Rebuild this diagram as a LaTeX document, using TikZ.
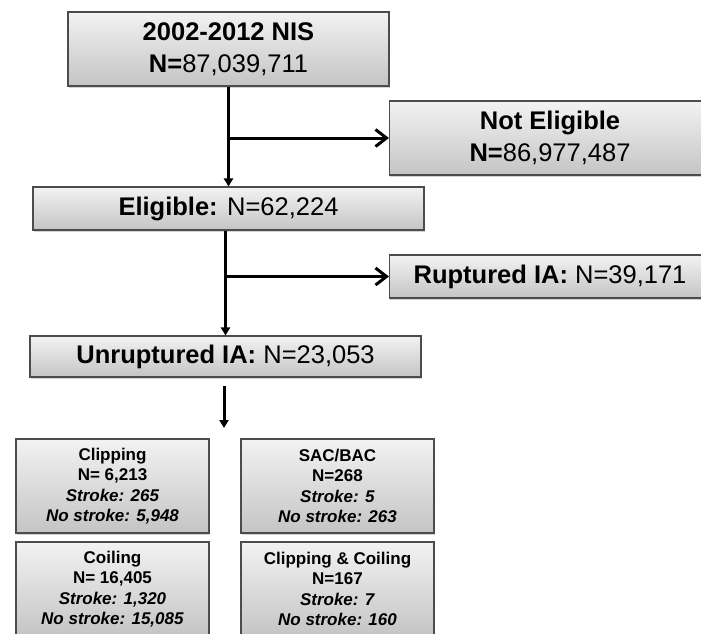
\documentclass[tikz,border=0pt]{standalone}
\usepackage{fontspec}
\setmainfont{Liberation Sans}
\usetikzlibrary{arrows.meta,shadows}
\newcommand{\bigtxt}{\fontsize{25.5pt}{32pt}\selectfont}
\newcommand{\smalltxt}{\fontsize{17pt}{20.5pt}\selectfont}
\begin{document}
\begin{tikzpicture}[x=1pt,y=-1pt,
  box/.style={draw=black!70,line width=1.1pt,top color=black!5,bottom color=black!23,inner sep=0pt,align=center,
    drop shadow={shadow xshift=0.8pt,shadow yshift=-1.6pt,opacity=0.35}},
  bigbox/.style={box,font=\bigtxt},
  smallbox/.style={box,font=\smalltxt\bfseries,minimum width=193pt,minimum height=94pt},
  arr/.style={line width=3pt,-{Triangle[length=8pt,width=9pt]}},
  side/.style={line width=3pt,-{Straight Barb[length=11pt,width=17pt]}}]
\useasboundingbox (0,0) rectangle (701,633);
\clip (0,0) rectangle (701,633);

\node[bigbox,minimum width=321pt,minimum height=74pt] (nis) at (228.5,49) {\textbf{2002-2012 NIS}\\\textbf{N=}87,039,711};
\node[bigbox,minimum width=321pt,minimum height=74pt] (notel) at (550,138) {\textbf{Not Eligible}\\\textbf{N=}86,977,487};
\node[bigbox,minimum width=391pt,minimum height=43pt] (elig) at (228.5,208.5) {\textbf{Eligible:} N=62,224};
\node[bigbox,minimum width=321pt,minimum height=43pt] (rupt) at (550,276.5) {\textbf{Ruptured IA:} N=39,171};
\node[bigbox,minimum width=391pt,minimum height=41pt] (unrupt) at (225.5,356.5) {\textbf{Unruptured IA:} N=23,053};

\node[smallbox] (clip) at (112.5,486) {Clipping\\N= 6,213\\\textit{Stroke: 265}\\\textit{No stroke: 5,948}};
\node[smallbox] (sac) at (337.5,486) {SAC/BAC\\N=268\\\textit{Stroke: 5}\\\textit{No stroke: 263}};
\node[smallbox] (coil) at (112.5,589) {Coiling\\N= 16,405\\\textit{Stroke: 1,320}\\\textit{No stroke: 15,085}};
\node[smallbox] (both) at (337.5,589) {Clipping \& Coiling\\N=167\\\textit{Stroke: 7}\\\textit{No stroke: 160}};

\coordinate (split) at (224,428);

\draw[arr] (nis.south) -- (elig.north);
\draw[side] (nis.south |- notel.west) -- (notel.west);
\draw[arr] (elig.south -| unrupt.north) -- (unrupt.north);
\draw[side] (unrupt.north |- rupt.west) -- (rupt.west);
\draw[arr] ([yshift=-8pt]unrupt.south -| split) -- (split);
\end{tikzpicture}
\end{document}
